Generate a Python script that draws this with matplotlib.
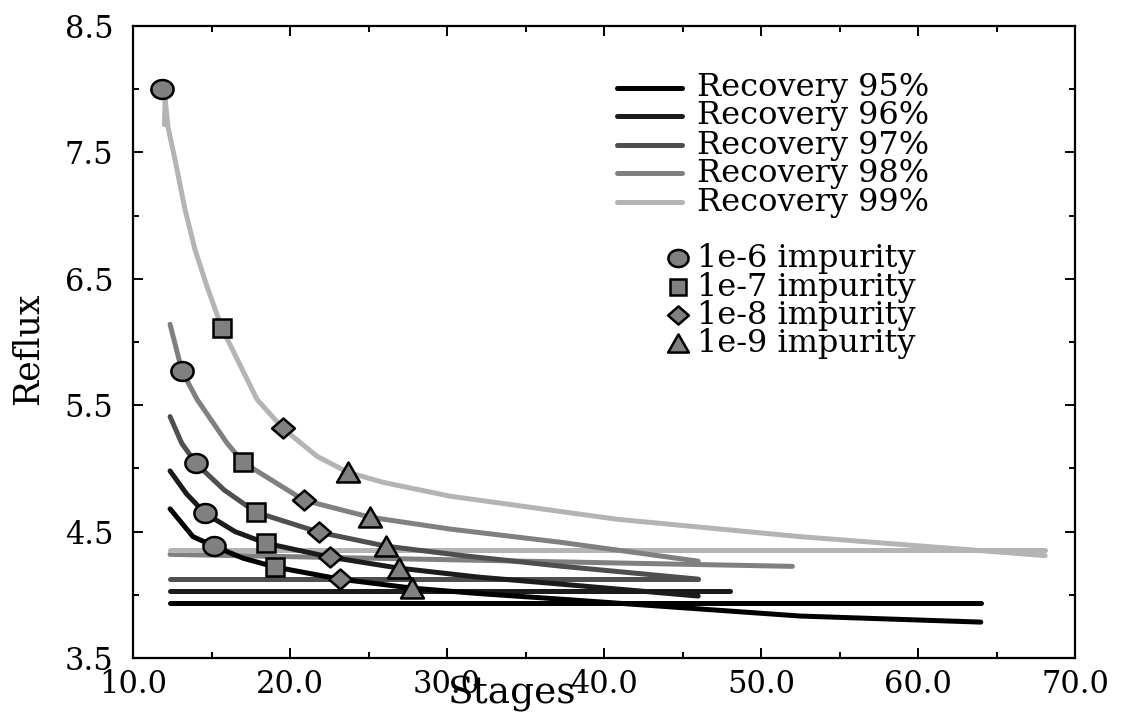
import numpy as np
import matplotlib
matplotlib.use("Agg")
import matplotlib.pyplot as plt
from matplotlib.path import Path
from matplotlib.lines import Line2D
from matplotlib.ticker import MultipleLocator, FormatStrFormatter

plt.rcParams['font.family'] = ['DejaVu Serif']

recovery_labels = ['Recovery 95%', 'Recovery 96%', 'Recovery 97%', 'Recovery 98%', 'Recovery 99%']
impurity_labels = ['1e-6 impurity', '1e-7 impurity', '1e-8 impurity', '1e-9 impurity']

# reflux vs stages curves, one per recovery
r95_x = [12.36, 13.82, 15.16, 17.0, 19.04, 23.18, 27.77, 32.0, 37.2, 52.5, 64.0]
r95_y = [4.68, 4.46, 4.385, 4.29, 4.22, 4.124, 4.053, 4.01, 3.966, 3.832, 3.784]
r96_x = [12.36, 13.4, 14.59, 16.5, 18.47, 22.55, 26.94, 32.0, 37.2, 46.0]
r96_y = [4.98, 4.80, 4.645, 4.50, 4.408, 4.298, 4.211, 4.14, 4.085, 3.99]
r97_x = [12.36, 13.1, 14.01, 15.8, 17.83, 21.85, 26.11, 31.0, 37.2, 46.0]
r97_y = [5.41, 5.20, 5.04, 4.83, 4.653, 4.495, 4.385, 4.31, 4.227, 4.124]
r98_x = [12.36, 13.12, 14.08, 15.99, 17.01, 20.89, 25.10, 30.2, 37.2, 46.0]
r98_y = [6.14, 5.77, 5.546, 5.20, 5.048, 4.748, 4.614, 4.52, 4.416, 4.266]
r99_x = [12.0, 12.05, 12.23, 12.68, 13.31, 13.95, 14.71, 15.67, 17.9, 19.55, 21.72, 23.69, 25.92, 30.2, 40.8, 52.5, 68.1]
r99_y = [7.72, 7.92, 7.70, 7.44, 7.05, 6.73, 6.44, 6.107, 5.546, 5.317, 5.096, 4.969, 4.89, 4.78, 4.598, 4.46, 4.31]

# minimum reflux lines
minr_x0 = [12.36, 12.36, 12.36, 12.36, 12.36]
minr_x1 = [64.0, 48.0, 46.0, 52.0, 68.1]
minr_y0 = [3.934, 4.029, 4.124, 4.32, 4.357]
minr_y1 = [3.934, 4.029, 4.124, 4.225, 4.357]

# impurity points, order 99% .. 95%
imp6_x = [11.85, 13.12, 14.01, 14.59, 15.16]
imp6_y = [8.00, 5.77, 5.04, 4.645, 4.385]
imp7_x = [15.67, 17.01, 17.83, 18.47, 19.04]
imp7_y = [6.107, 5.048, 4.653, 4.408, 4.219]
imp8_x = [19.55, 20.89, 21.85, 22.55, 23.18]
imp8_y = [5.317, 4.748, 4.495, 4.298, 4.124]
imp9_x = [23.69, 25.10, 26.11, 26.94, 27.77]
imp9_y = [4.969, 4.614, 4.385, 4.211, 4.053]

colors = ['#000000', '#1c1c1c', '#4f4f4f', '#808080', '#b4b4b4']

t = np.linspace(0, 2 * np.pi, 61)
ellipse = Path(np.column_stack([np.cos(t), 0.85 * np.sin(t)]))
triangle = Path([(0, 0.87), (-1, -0.87), (1, -0.87), (0, 0.87)], closed=True)
diamond = Path([(0, 0.87), (1, 0), (0, -0.87), (-1, 0), (0, 0.87)], closed=True)
markers = [(ellipse, 16), ('s', 12.5), (diamond, 16.5), (triangle, 16.5)]

fig = plt.figure(figsize=(11.22, 7.23), dpi=100)
ax = fig.add_axes([133 / 1122, 1 - 658 / 723, 942 / 1122, 632 / 723])

curves = [(r95_x, r95_y), (r96_x, r96_y), (r97_x, r97_y), (r98_x, r98_y), (r99_x, r99_y)]
for i, (cx, cy) in enumerate(curves):
    ax.plot([minr_x0[i], minr_x1[i]], [minr_y0[i], minr_y1[i]], color=colors[i], lw=3.6,
            solid_capstyle='round', zorder=2)
for i, (cx, cy) in enumerate(curves):
    ax.plot(cx, cy, color=colors[i], lw=3.6, solid_capstyle='round', solid_joinstyle='round', zorder=3)

points = [(imp6_x, imp6_y), (imp7_x, imp7_y), (imp8_x, imp8_y), (imp9_x, imp9_y)]
for (px, py), (m, ms) in zip(points, markers):
    ax.plot(px, py, ls='none', marker=m, ms=ms, mfc='#808080', mec='black', mew=1.8, zorder=5)

ax.set_xlim(10, 70)
ax.set_ylim(3.5, 8.5)
ax.xaxis.set_major_locator(MultipleLocator(10))
ax.xaxis.set_minor_locator(MultipleLocator(5))
ax.yaxis.set_major_locator(MultipleLocator(1.0, offset=0.5))
ax.yaxis.set_minor_locator(MultipleLocator(0.5))
ax.xaxis.set_major_formatter(FormatStrFormatter('%.1f'))
ax.yaxis.set_major_formatter(FormatStrFormatter('%.1f'))
ax.tick_params(which='both', direction='in', top=True, right=True, width=1.4, labelsize=22)
ax.tick_params(which='major', length=7)
ax.tick_params(which='minor', length=4)
ax.tick_params(axis='x', pad=8)
ax.tick_params(axis='y', pad=14)
for s in ax.spines.values():
    s.set_linewidth(1.6)

ax.set_xlabel('Stages', fontsize=27)
ax.xaxis.set_label_coords(0.402, -0.057)
ax.xaxis.label.set_va('center')
ax.set_ylabel('Reflux', fontsize=25)
ax.yaxis.set_label_coords(-0.1115, 0.489)
ax.yaxis.label.set_va('center')

# legends drawn by hand to match spacing
rec_rows = [0.9019, 0.8576, 0.8117, 0.7674, 0.7215]
for lab, c, yy in zip(recovery_labels, colors, rec_rows):
    ax.add_line(Line2D([0.5138, 0.5828], [yy, yy], transform=ax.transAxes, color=c, lw=3.6,
                       solid_capstyle='round'))
    ax.text(0.5987, yy, lab, transform=ax.transAxes, fontsize=23, va='center', ha='left')

imp_rows = [0.6329, 0.5870, 0.5427, 0.4984]
for lab, (m, ms), yy in zip(impurity_labels, markers, imp_rows):
    ax.add_line(Line2D([0.5786], [yy], transform=ax.transAxes, ls='none', marker=m, ms=ms - 1.5,
                       mfc='#808080', mec='black', mew=1.8))
    ax.text(0.5987, yy, lab, transform=ax.transAxes, fontsize=23, va='center', ha='left')

fig.savefig('out.png', dpi=100)
